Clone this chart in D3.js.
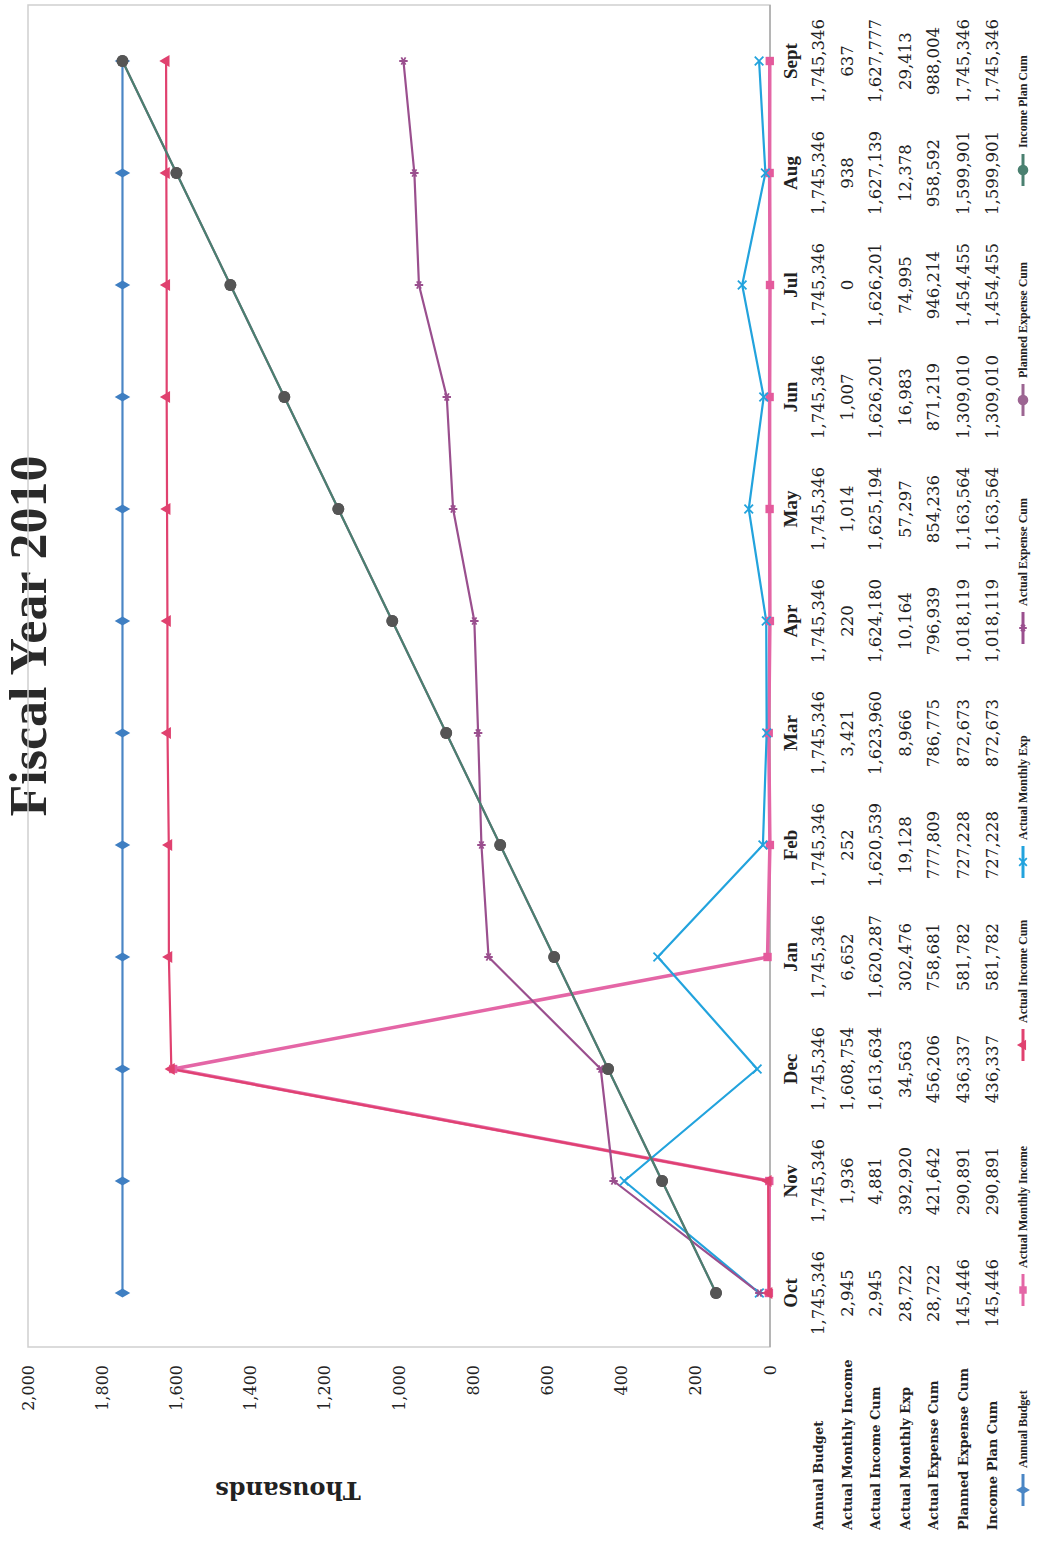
<!DOCTYPE html>
<html>
<head>
<meta charset="utf-8">
<script src="https://cdn.jsdelivr.net/npm/d3@7"></script>
<style>
  body{margin:0;background:#fff;}
  svg{display:block;}
</style>
</head>
<body>
<svg id="chart" width="1053" height="1551"></svg>
<script>
"use strict";
//----------------------------------------
//Data (dollars)
var months = ["Oct","Nov","Dec","Jan","Feb","Mar","Apr","May","Jun","Jul","Aug","Sept"];
var annualBudget = [1745346,1745346,1745346,1745346,1745346,1745346,1745346,1745346,1745346,1745346,1745346,1745346];
var actualMonthlyIncome = [2945,1936,1608754,6652,252,3421,220,1014,1007,0,938,637];
var actualIncomeCum = [2945,4881,1613634,1620287,1620539,1623960,1624180,1625194,1626201,1626201,1627139,1627777];
var actualMonthlyExp = [28722,392920,34563,302476,19128,8966,10164,57297,16983,74995,12378,29413];
var actualExpenseCum = [28722,421642,456206,758681,777809,786775,796939,854236,871219,946214,958592,988004];
var plannedExpenseCum = [145446,290891,436337,581782,727228,872673,1018119,1163564,1309010,1454455,1599901,1745346];
var incomePlanCum = [145446,290891,436337,581782,727228,872673,1018119,1163564,1309010,1454455,1599901,1745346];
var seriesNames = ["Annual Budget","Actual Monthly Income","Actual Income Cum","Actual Monthly Exp","Actual Expense Cum","Planned Expense Cum","Income Plan Cum"];
var valueTicks = [0,200000,400000,600000,800000,1000000,1200000,1400000,1600000,1800000,2000000];

var series = [
    {name:seriesNames[0], values:annualBudget,        color:"#4a86c5", marker:d3.symbolDiamond,  size:70,  fill:"#3f7fc2"},
    {name:seriesNames[1], values:actualMonthlyIncome, color:"#e466a6", marker:d3.symbolSquare,   size:70,  fill:"#e45a9c", width:3.5},
    {name:seriesNames[2], values:actualIncomeCum,     color:"#e0416f", marker:d3.symbolTriangle, size:60,  fill:"#e0416f"},
    {name:seriesNames[3], values:actualMonthlyExp,    color:"#22a3dd", marker:d3.symbolX,        size:50,  fill:"none", stroke:true},
    {name:seriesNames[4], values:actualExpenseCum,    color:"#9a4f8e", marker:d3.symbolAsterisk, size:50,  fill:"none", stroke:true},
    {name:seriesNames[5], values:plannedExpenseCum,   color:"#9c6592", marker:d3.symbolCircle,   size:110, fill:"#5a5a5a"},
    {name:seriesNames[6], values:incomePlanCum,       color:"#4a8070", marker:d3.symbolCircle,   size:110, fill:"#555555"}
];

var serif = "'DejaVu Serif', serif",
    times = "'Liberation Serif', serif";

//The sheet was scanned sideways: draw the chart upright, then turn it
var svg = d3.select("#chart"),
    g = svg.append("g").attr("transform","translate(0,1551) rotate(-90)");

var x = d3.scalePoint().domain(months).range([258,1490]),
    y = d3.scaleLinear().domain([0,2000000]).range([770,28]);

//Title, close to the scan edge
g.append("text")
    .attr("x",915).attr("y",46)
    .attr("text-anchor","middle")
    .style("font-family",times).style("font-weight","bold").style("font-size","52px")
    .style("fill","#2a2a2a")
    .text("Fiscal Year 2010");

//plot frame
g.append("rect")
    .attr("x",204).attr("y",28)
    .attr("width",1546-204).attr("height",770-28)
    .style("fill","none").style("stroke","#cfcfcf").style("stroke-width",1.5);

g.append("line")
    .attr("x1",204).attr("x2",1546).attr("y1",770).attr("y2",770)
    .style("stroke","#a8a8a8").style("stroke-width",1.5);

//value axis
var yAxis = g.append("g")
    .attr("transform","translate(204,0)")
    .call(d3.axisLeft(y).tickValues(valueTicks).tickSize(0).tickPadding(18)
          .tickFormat(function(d){ return d3.format(",")(d/1000); }));
yAxis.select(".domain").remove();
yAxis.selectAll("text")
    .style("font-family",serif).style("font-size","16px").style("fill","#222");

g.append("text")
    .attr("transform","translate(61,288) rotate(-90)")
    .attr("text-anchor","middle").attr("dominant-baseline","central")
    .style("font-family",serif).style("font-weight","bold").style("font-size","24px")
    .style("fill","#222")
    .text("Thousands");

//lines
var line = d3.line().x(function(d,i){ return x(months[i]); }).y(function(d){ return y(d); });

series.forEach(function(s){
    g.append("path")
        .datum(s.values)
        .attr("d",line)
        .style("fill","none")
        .style("stroke",s.color)
        .style("stroke-width",s.width || 2.2)
        .style("stroke-linejoin","round");
});

series.forEach(function(s){
    g.selectAll(null)
        .data(s.values)
        .enter()
        .append("path")
        .attr("transform",function(d,i){ return "translate(" + x(months[i]) + "," + y(d) + ")"; })
        .attr("d",d3.symbol().type(s.marker).size(s.size))
        .style("fill",s.stroke ? "none" : s.fill)
        .style("stroke",s.stroke ? s.color : "none")
        .style("stroke-width",1.8);
});

//data table under the plot
var rowY = [818,847,875,905,933,963,992];

g.selectAll(".month")
    .data(months)
    .enter()
    .append("text")
    .attr("class","month")
    .attr("x",function(d){ return x(d); })
    .attr("y",790)
    .attr("text-anchor","middle").attr("dominant-baseline","central")
    .style("font-family",times).style("font-weight","bold").style("font-size","19px")
    .style("fill","#222")
    .text(function(d){ return d; });

g.selectAll(".rowName")
    .data(seriesNames)
    .enter()
    .append("text")
    .attr("class","rowName")
    .attr("x",21)
    .attr("y",function(d,i){ return rowY[i]; })
    .attr("dominant-baseline","central")
    .style("font-family",serif).style("font-weight","bold").style("font-size","13px")
    .style("fill","#222")
    .text(function(d){ return d; });

series.forEach(function(s,r){
    g.selectAll(null)
        .data(s.values)
        .enter()
        .append("text")
        .attr("x",function(d,i){ return x(months[i]); })
        .attr("y",rowY[r])
        .attr("text-anchor","middle").attr("dominant-baseline","central")
        .style("font-family",serif).style("font-size","16.5px")
        .style("fill","#222")
        .text(function(d){ return d3.format(",")(d); });
});

//legend
var legendX = [61,261,506,689,923,1151,1381];
var legend = g.selectAll(".legend")
    .data(series)
    .enter()
    .append("g")
    .attr("class","legend")
    .attr("transform",function(d,i){ return "translate(" + legendX[i] + ",1023)"; });

legend.append("line")
    .attr("x1",-16).attr("x2",16)
    .style("stroke",function(d){ return d.color; })
    .style("stroke-width",3);

legend.append("path")
    .attr("d",function(d){ return d3.symbol().type(d.marker).size(d.size * 0.8)(); })
    .style("fill",function(d){ return d.stroke ? "none" : d.color; })
    .style("stroke",function(d){ return d.stroke ? d.color : "none"; })
    .style("stroke-width",1.8);

legend.append("text")
    .attr("x",22)
    .attr("dominant-baseline","central")
    .style("font-family",times).style("font-weight","bold").style("font-size","12px")
    .style("fill","#222")
    .text(function(d){ return d.name; });
</script>
</body>
</html>
